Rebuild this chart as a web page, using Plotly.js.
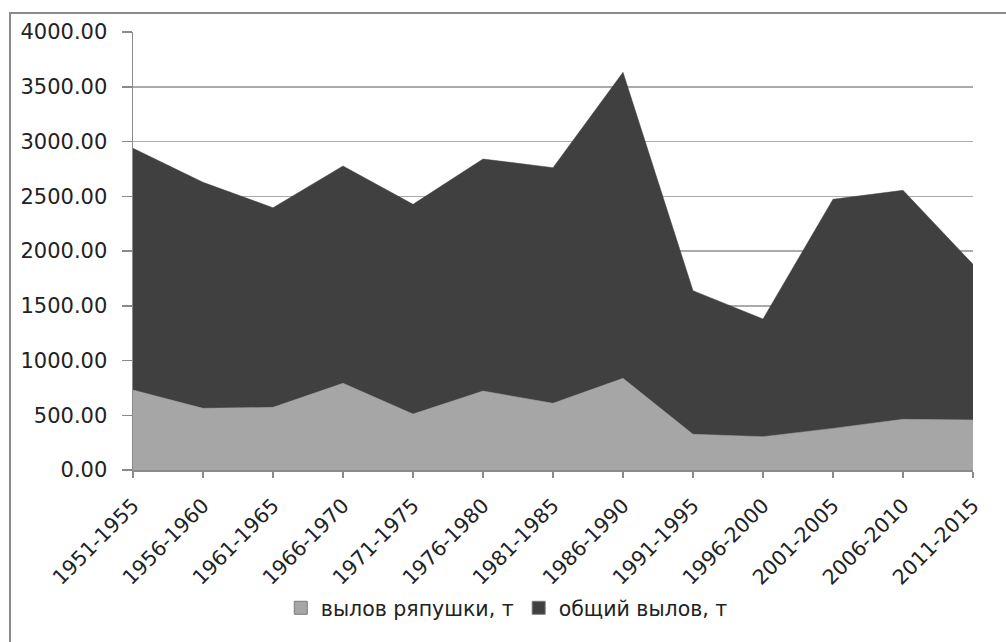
<!DOCTYPE html>
<html>
<head>
<meta charset="utf-8">
<script src="https://cdn.plot.ly/plotly-3.0.1.min.js"></script>
<style>
  html, body { margin: 0; padding: 0; background: #fff; }
  #wrap { position: relative; width: 1006px; height: 642px; }
  #chart { position: absolute; left: 0; top: 0; width: 1006px; height: 642px; }
  #frame { position: absolute; left: 9px; top: 12px; width: 1000px; height: 640px;
           border-left: 2px solid #8a8a8a; border-top: 2px solid #8a8a8a; pointer-events: none; }
</style>
</head>
<body>
<div id="wrap">
  <div id="chart"></div>
  <div id="frame"></div>
</div>
<script>
const periods = ["1951-1955","1956-1960","1961-1965","1966-1970","1971-1975","1976-1980",
                 "1981-1985","1986-1990","1991-1995","1996-2000","2001-2005","2006-2010","2011-2015"];
const totalCatch = [2938, 2627, 2395, 2776, 2426, 2840, 2761, 3632, 1638, 1379, 2472, 2554, 1878];
const vendaceCatch = [730, 563, 572, 792, 511, 721, 609, 837, 326, 304, 380, 463, 457];
const seriesNames = ["вылов ряпушки, т", "общий вылов, т"];
const seriesColors = ["#a6a6a6", "#404040"];

const traces = [
  { x: periods, y: totalCatch, name: seriesNames[1], type: "scatter", mode: "lines",
    fill: "tozeroy", fillcolor: seriesColors[1], line: { color: seriesColors[1], width: 0.5 },
    showlegend: false },
  { x: periods, y: vendaceCatch, name: seriesNames[0], type: "scatter", mode: "lines",
    fill: "tozeroy", fillcolor: seriesColors[0], line: { color: seriesColors[0], width: 0.5 },
    showlegend: false },
  // legend-only entries with square swatches
  { x: [null], y: [null], name: seriesNames[0], type: "scatter", mode: "markers",
    marker: { symbol: "square", size: 13, color: seriesColors[0], line: { color: "#7a7a7a", width: 1 } } },
  { x: [null], y: [null], name: seriesNames[1], type: "scatter", mode: "markers",
    marker: { symbol: "square", size: 13, color: seriesColors[1], line: { color: "#7a7a7a", width: 1 } } }
];

const font = "DejaVu Sans, Liberation Sans, sans-serif";
const layout = {
  width: 1006, height: 642,
  margin: { l: 133, r: 33, t: 32, b: 172 },
  paper_bgcolor: "#fff", plot_bgcolor: "#fff",
  showlegend: true,
  legend: { orientation: "h", x: 0.445, xanchor: "center", y: -0.315, yanchor: "middle",
            font: { family: font, size: 20.5, color: "#222" }, itemwidth: 30, tracegroupgap: 0 },
  xaxis: {
    type: "category", range: [0, 12], showgrid: false,
    ticks: "outside", ticklen: 6, tickcolor: "#8a8a8a", tickwidth: 1.5,
    showline: true, linecolor: "#8a8a8a", linewidth: 1.5,
    tickangle: -45, tickfont: { family: font, size: 20.5, color: "#222" },
    ticklabelstandoff: 8, automargin: false
  },
  yaxis: {
    range: [0, 4000], dtick: 500, tickformat: ".2f",
    showgrid: true, gridcolor: "#ababab", gridwidth: 1.5,
    ticks: "outside", ticklen: 10, tickcolor: "#8a8a8a", tickwidth: 1.5,
    showline: true, linecolor: "#8a8a8a", linewidth: 1.5,
    zeroline: false, ticklabelstandoff: 10,
    tickfont: { family: font, size: 21, color: "#222" }, automargin: false
  }
};

Plotly.newPlot("chart", traces, layout, { displayModeBar: false, staticPlot: true });
</script>
</body>
</html>
